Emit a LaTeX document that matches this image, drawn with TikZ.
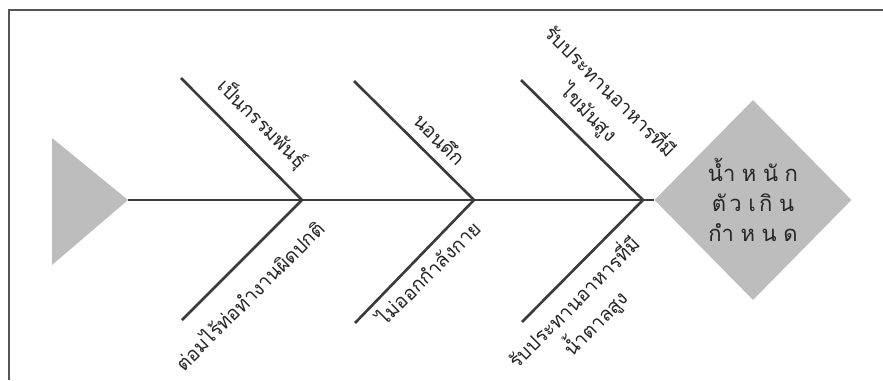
\documentclass[tikz,border=0pt]{standalone}
\usepackage{fontspec}
\setmainfont{Liberation Sans}
\newfontfamily\thai[Script=Thai]{Loma}
\usetikzlibrary{shapes.geometric}
\definecolor{linegray}{HTML}{3A3A3A}
\definecolor{framegray}{HTML}{555555}
\definecolor{shapegray}{HTML}{BDBDBD}
\definecolor{txtgray}{HTML}{262626}
\begin{document}
\begin{tikzpicture}[x=1pt,y=-1pt,
  bone/.style={draw=linegray, line width=2.6pt},
  lbl/.style={font=\thai\fontsize{19.5}{30}\selectfont, text=txtgray, inner sep=0pt, align=center},
  effect/.style={diamond, fill=shapegray, minimum width=197pt, minimum height=200pt, inner sep=0pt,
    align=center, text=txtgray, font=\thai\fontsize{22}{30}\selectfont}]
\useasboundingbox (0,0) rectangle (883,380);
\fill[white] (0,0) rectangle (883,380);
\draw[framegray, line width=1.4pt] (883,10) -- (9,10) -- (9,380);
% head
\node[effect] (eff) at (753,200) {น้ำ\hspace{0.3em}ห\hspace{0.3em}นั\hspace{0.3em}ก\\ตั\hspace{0.15em}ว\hspace{0.3em}เ\hspace{0.15em}กิ\hspace{0.3em}น\\กำ\hspace{0.3em}ห\hspace{0.3em}น\hspace{0.3em}ด};
% tail
\coordinate (tip) at (128,200);
\fill[shapegray] (52,138) -- (tip) -- (52,265) -- cycle;
% spine
\draw[bone] (tip) -- (eff.west);
% junctions and bone ends
\coordinate (j1) at (302,200);
\coordinate (j2) at (474,200);
\coordinate (j3) at (643,200);
\coordinate (u1) at (181,78);
\coordinate (l1) at (182,320);
\coordinate (u2) at (354,81);
\coordinate (l2) at (355,323);
\coordinate (u3) at (521,80);
\coordinate (l3) at (522,322);
\draw[bone] (u1) -- (j1) -- (l1);
\draw[bone] (u2) -- (j2) -- (l2);
\draw[bone] (u3) -- (j3) -- (l3);
% labels
\node[lbl, rotate=-45] (t1) at (262,124) {เป็นกรรมพันธุ์};
\node[lbl, rotate=-45] (t2) at (440,139) {นอนดึก};
\node[lbl, rotate=-45] (t3) at (600,102) {รับประทานอาหารที่มี\\ไขมันสูง};
\node[lbl, rotate=45] (b1) at (249,295) {ต่อมไร้ท่อทำงานผิดปกติ};
\node[lbl, rotate=45] (b2) at (428,272) {ไม่ออกกำลังกาย};
\node[lbl, rotate=45] (b3) at (585,313) {รับประทานอาหารที่มี\\น้ำตาลสูง};
\end{tikzpicture}
\end{document}
